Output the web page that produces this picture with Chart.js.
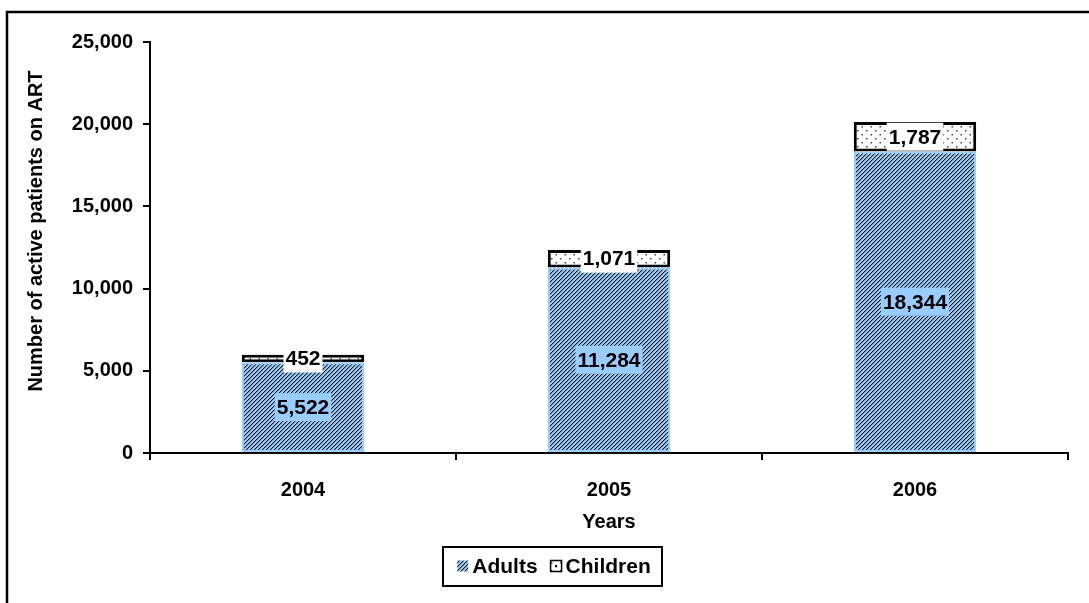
<!DOCTYPE html>
<html>
<head>
<meta charset="utf-8">
<title>Active patients on ART</title>
<script src="https://cdn.jsdelivr.net/npm/chart.js@4/dist/chart.umd.min.js"></script>
<style>
  html, body { margin: 0; padding: 0; background: #ffffff; }
  #wrap { width: 1089px; height: 603px; position: relative; }
</style>
</head>
<body>
<div id="wrap"><canvas id="chart" width="1089" height="603"></canvas></div>
<script>
// Years on the x axis
const categories = ['2004', '2005', '2006'];
// Active patients on ART, by group
const adults = [5522, 11284, 18344];
const children = [452, 1071, 1787];
// Y axis range and step
const yMax = 25000;
const yStep = 5000;
const yTitle = 'Number of active patients on ART';
const xTitle = 'Years';

const FONT = '"Liberation Sans", Arial, Helvetica, sans-serif';
const ADULT_BLUE = '#99CCFF';

// Light blue fill with crisp dark diagonal hatching (1px lines, 4px period)
function makeHatch() {
  const c = document.createElement('canvas');
  c.width = 4; c.height = 4;
  const g = c.getContext('2d');
  g.fillStyle = ADULT_BLUE;
  g.fillRect(0, 0, 4, 4);
  for (let x = 0; x < 4; x++) {
    g.fillStyle = '#1a1a1a';
    g.fillRect(x, 3 - x, 1, 1);
    g.fillStyle = '#7390ad';
    g.fillRect(x, (4 - x) % 4, 1, 1);
  }
  return g.createPattern(c, 'repeat');
}

// White fill with a sparse dot texture
function makeDots() {
  const c = document.createElement('canvas');
  c.width = 9; c.height = 8;
  const g = c.getContext('2d');
  g.fillStyle = '#ffffff';
  g.fillRect(0, 0, 9, 8);
  g.fillStyle = '#444444';
  g.fillRect(2, 2, 1.5, 1.5);
  g.fillRect(6.5, 6, 1.5, 1.5);
  return g.createPattern(c, 'repeat');
}

const hatch = makeHatch();
const dots = makeDots();

// Outer frame (only top and left edges fall inside the canvas)
const framePlugin = {
  id: 'frame',
  afterDraw(chart) {
    const ctx = chart.ctx;
    ctx.save();
    ctx.strokeStyle = '#000';
    ctx.lineWidth = 2.5;
    ctx.beginPath();
    ctx.moveTo(7, 603);
    ctx.lineTo(7, 12);
    ctx.lineTo(1089, 12);
    ctx.stroke();
    ctx.restore();
  }
};

// Rotated y axis title, placed beside the tick labels
const yTitlePlugin = {
  id: 'yTitle',
  afterDraw(chart) {
    const ctx = chart.ctx;
    ctx.save();
    ctx.translate(36, 231);
    ctx.rotate(-Math.PI / 2);
    ctx.font = 'bold 20px ' + FONT;
    ctx.fillStyle = '#000';
    ctx.textAlign = 'center';
    ctx.textBaseline = 'middle';
    ctx.fillText(yTitle, 0, 0);
    ctx.restore();
  }
};

// Value labels at the middle of each bar segment
const valueLabels = {
  id: 'valueLabels',
  afterDatasetsDraw(chart) {
    const ctx = chart.ctx;
    ctx.save();
    ctx.font = 'bold 21px ' + FONT;
    ctx.textAlign = 'center';
    ctx.textBaseline = 'middle';
    chart.data.datasets.forEach((ds, di) => {
      const meta = chart.getDatasetMeta(di);
      meta.data.forEach((bar, i) => {
        const text = ds.data[i].toLocaleString('en-US');
        const cy = (bar.y + bar.base) / 2;
        const w = ctx.measureText(text).width + 4;
        const h = 28;
        ctx.fillStyle = ds.labelBg;
        ctx.fillRect(bar.x - w / 2, cy - h / 2, w, h);
        ctx.fillStyle = '#000';
        ctx.fillText(text, bar.x, cy + 1);
      });
    });
    ctx.restore();
  }
};

// Boxed legend below the axis title
const boxedLegend = {
  id: 'boxedLegend',
  afterDraw(chart) {
    const ctx = chart.ctx;
    const items = chart.data.datasets;
    ctx.save();
    ctx.font = 'bold 21px ' + FONT;
    ctx.textBaseline = 'middle';
    ctx.textAlign = 'left';
    const mark = 11, gap = 4, itemGap = 13;
    const widths = items.map(d => mark + gap + ctx.measureText(d.label).width);
    const total = widths.reduce((a, b) => a + b, 0) + itemGap * (items.length - 1);
    const cx = 554, cy = 566;
    const boxW = 219, boxH = 39;
    const bx = 443, by = 547;
    ctx.fillStyle = '#fff';
    ctx.fillRect(bx, by, boxW, boxH);
    ctx.strokeStyle = '#000';
    ctx.lineWidth = 2;
    ctx.strokeRect(bx, by, boxW, boxH);
    let x = cx - total / 2;
    items.forEach((d, i) => {
      ctx.fillStyle = d.backgroundColor;
      ctx.fillRect(x, cy - mark / 2, mark, mark);
      if (d.legendBorder) {
        ctx.strokeStyle = d.legendBorder;
        ctx.lineWidth = 1.5;
        ctx.strokeRect(x, cy - mark / 2, mark, mark);
        ctx.fillStyle = '#000';
        ctx.fillRect(x + mark / 2 - 1, cy - 1, 2, 2);
      }
      ctx.fillStyle = '#000';
      ctx.fillText(d.label, x + mark + gap, cy + 1);
      x += widths[i] + itemGap;
    });
    ctx.restore();
  }
};

new Chart(document.getElementById('chart'), {
  type: 'bar',
  data: {
    labels: categories,
    datasets: [
      {
        label: 'Adults',
        data: adults,
        backgroundColor: hatch,
        borderColor: ADULT_BLUE,
        borderWidth: 2,
        borderSkipped: false,
        labelBg: ADULT_BLUE,
        legendBorder: null
      },
      {
        label: 'Children',
        data: children,
        backgroundColor: dots,
        borderColor: '#000',
        borderWidth: 3,
        borderSkipped: false,
        labelBg: '#ffffff',
        legendBorder: '#000'
      }
    ]
  },
  options: {
    responsive: false,
    animation: false,
    devicePixelRatio: 1,
    layout: { padding: { top: 42, right: 21, bottom: 69, left: 24 } },
    datasets: { bar: { barPercentage: 0.4, categoryPercentage: 1.0 } },
    plugins: {
      legend: { display: false },
      tooltip: { enabled: false }
    },
    scales: {
      x: {
        stacked: true,
        afterFit(scale) { scale.height = 81; },
        grid: { display: true, offset: true, drawOnChartArea: false, drawTicks: true, tickLength: 7, color: '#000', lineWidth: 2 },
        border: { display: true, color: '#000', width: 2 },
        ticks: { color: '#000', font: { family: FONT, size: 20, weight: 'bold' }, padding: 18, maxRotation: 0 },
        title: { display: true, text: xTitle, color: '#000', font: { family: FONT, size: 20, weight: 'bold' }, padding: { top: 0, bottom: 0 } }
      },
      y: {
        stacked: true,
        min: 0,
        max: yMax,
        afterFit(scale) { scale.width = 126; },
        grid: { display: true, drawOnChartArea: false, drawTicks: true, tickLength: 7, color: '#000', lineWidth: 2 },
        border: { display: true, color: '#000', width: 2 },
        ticks: {
          stepSize: yStep,
          color: '#000',
          padding: 10,
          font: { family: FONT, size: 20, weight: 'bold' },
          callback: v => v.toLocaleString('en-US')
        },
        title: { display: false }
      }
    }
  },
  plugins: [framePlugin, yTitlePlugin, valueLabels, boxedLegend]
});
</script>
</body>
</html>
